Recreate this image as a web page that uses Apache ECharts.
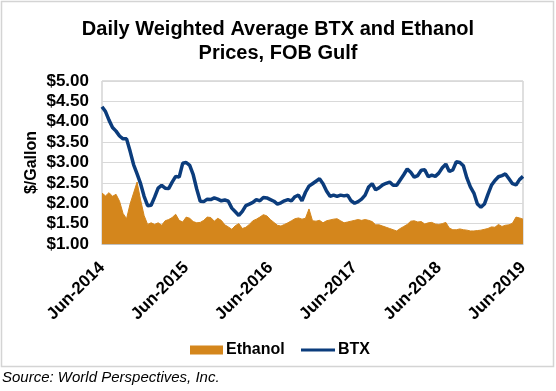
<!DOCTYPE html>
<html>
<head>
<meta charset="utf-8">
<script src="https://cdn.jsdelivr.net/npm/echarts@6/dist/echarts.min.js"></script>
<style>html,body{margin:0;padding:0;background:#fff;}#c{width:556px;height:391px;}</style>
</head>
<body>
<div id="c"></div>
<script>
// Semi-monthly sample dates, Jun-2014 .. Jun-2019 (1st and 16th of each month)
const dates = [];
for (let i = 0; i <= 120; i++) {
  const m = 5 + Math.floor(i / 2);
  const year = 2014 + Math.floor(m / 12);
  const month = (m % 12) + 1;
  const day = i % 2 ? 16 : 1;
  dates.push(year + '-' + String(month).padStart(2, '0') + '-' + String(day).padStart(2, '0'));
}
const tickLabels = ['Jun-2014', 'Jun-2015', 'Jun-2016', 'Jun-2017', 'Jun-2018', 'Jun-2019'];

// $/Gallon
const btx = [
  4.37, 4.25, 4.04, 3.86, 3.77, 3.65, 3.58, 3.58, 3.28, 2.95,
  2.72, 2.48, 2.17, 1.94, 1.95, 2.15, 2.37, 2.44, 2.37, 2.36,
  2.52, 2.66, 2.64, 2.98, 3.00, 2.93, 2.70, 2.35, 2.05, 2.04,
  2.10, 2.09, 2.13, 2.10, 2.06, 2.08, 2.05, 1.88, 1.79, 1.70,
  1.80, 1.94, 1.98, 2.02, 2.09, 2.06, 2.14, 2.13, 2.09, 2.05,
  1.98, 2.01, 2.06, 2.09, 2.06, 2.16, 2.20, 2.06, 2.27, 2.42,
  2.48, 2.54, 2.60, 2.48, 2.30, 2.17, 2.20, 2.17, 2.20, 2.18,
  2.20, 2.06, 2.00, 2.04, 2.10, 2.20, 2.40, 2.48, 2.33, 2.38,
  2.45, 2.49, 2.52, 2.44, 2.44, 2.57, 2.70, 2.84, 2.76, 2.64,
  2.68, 2.81, 2.82, 2.65, 2.69, 2.66, 2.74, 2.87, 2.96, 2.78,
  2.82, 3.02, 3.00, 2.92, 2.62, 2.40, 2.25, 1.98, 1.90, 1.98,
  2.22, 2.44, 2.56, 2.65, 2.68, 2.72, 2.60, 2.48, 2.45, 2.58,
  2.66
];
const ethanol = [
  2.25, 2.18, 2.26, 2.17, 2.22, 2.05, 1.75, 1.62, 1.98, 2.25,
  2.52, 2.08, 1.70, 1.48, 1.52, 1.48, 1.52, 1.46, 1.57, 1.60,
  1.65, 1.73, 1.58, 1.54, 1.66, 1.63, 1.55, 1.52, 1.53, 1.58,
  1.66, 1.65, 1.56, 1.63, 1.58, 1.47, 1.42, 1.36, 1.45, 1.50,
  1.38, 1.41, 1.48, 1.57, 1.61, 1.66, 1.72, 1.69, 1.60, 1.53,
  1.46, 1.44, 1.48, 1.52, 1.57, 1.62, 1.64, 1.61, 1.63, 1.86,
  1.57, 1.56, 1.58, 1.52, 1.57, 1.59, 1.61, 1.62, 1.57, 1.52,
  1.54, 1.56, 1.58, 1.60, 1.58, 1.60, 1.58, 1.55, 1.47, 1.47,
  1.44, 1.41, 1.38, 1.35, 1.32, 1.38, 1.43, 1.48, 1.56, 1.57,
  1.54, 1.55, 1.49, 1.52, 1.53, 1.49, 1.48, 1.50, 1.53, 1.39,
  1.35, 1.35, 1.37, 1.35, 1.34, 1.32, 1.32, 1.33, 1.34, 1.36,
  1.38, 1.42, 1.41, 1.48, 1.43, 1.46, 1.47, 1.51, 1.66, 1.64,
  1.61
];

const ORANGE = '#D4861C';
const NAVY = '#0B3C7C';
const FONT = 'Liberation Sans, Arial, sans-serif';

const chart = echarts.init(document.getElementById('c'), null, { renderer: 'canvas' });
chart.setOption({
  animation: false,
  backgroundColor: '#fff',
  title: [
    {
      text: 'Daily Weighted Average BTX and Ethanol\nPrices, FOB Gulf',
      left: 'center', top: 12,
      textStyle: { fontFamily: FONT, fontSize: 20, fontWeight: 'bold', color: '#000', lineHeight: 24 }
    },
    {
      text: 'Source: World Perspectives, Inc.',
      left: 2, top: 370, padding: 0,
      textStyle: { fontFamily: FONT, fontSize: 15, fontWeight: 'normal', fontStyle: 'italic', color: '#000' }
    }
  ],
  graphic: [{
    type: 'rect', silent: true,
    shape: { x: 1.5, y: 1.5, width: 552, height: 365 },
    style: { fill: 'none', stroke: '#d4d4d4', lineWidth: 1.5 }
  }],
  legend: [
    {
      data: [{ name: 'Ethanol', icon: 'rect' }],
      left: 190, top: 342, padding: 0,
      itemWidth: 33, itemHeight: 9,
      textStyle: { fontFamily: FONT, fontSize: 16, fontWeight: 'bold', color: '#000', padding: [0, 0, 0, -2] }
    },
    {
      data: [{ name: 'BTX', icon: 'rect' }],
      left: 301, top: 342, padding: 0,
      itemWidth: 34, itemHeight: 3,
      textStyle: { fontFamily: FONT, fontSize: 16, fontWeight: 'bold', color: '#000', padding: [0, 0, 0, -2] }
    }
  ],
  grid: {
    left: 102, right: 33, top: 81, bottom: 147,
    show: true, borderColor: '#bfbfbf', borderWidth: 1
  },
  xAxis: {
    type: 'category',
    data: dates,
    boundaryGap: false,
    axisLine: { show: true, lineStyle: { color: '#bfbfbf' } },
    axisTick: { show: false },
    splitLine: { show: false },
    axisLabel: {
      interval: 23,
      rotate: 45,
      margin: 21,
      fontFamily: FONT, fontSize: 17, fontWeight: 'bold', color: '#000',
      formatter: function (v, idx) { return tickLabels[Math.round(idx / 24)]; }
    }
  },
  yAxis: {
    type: 'value',
    min: 1, max: 5, interval: 0.5,
    name: '$/Gallon',
    nameLocation: 'middle',
    nameGap: 62,
    nameMoveOverlap: false,
    nameTextStyle: { fontFamily: FONT, fontSize: 16, fontWeight: 'bold', color: '#000' },
    axisLine: { show: false },
    axisTick: { show: false },
    splitLine: { lineStyle: { color: '#d9d9d9', width: 1 } },
    axisLabel: {
      margin: 13,
      fontFamily: FONT, fontSize: 17, fontWeight: 'bold', color: '#000',
      formatter: function (v) { return '$' + v.toFixed(2); }
    }
  },
  series: [
    {
      name: 'Ethanol', type: 'line', data: ethanol,
      symbol: 'none', showSymbol: false,
      itemStyle: { color: ORANGE },
      lineStyle: { color: ORANGE, width: 1 },
      areaStyle: { color: ORANGE, opacity: 1, origin: 'start' },
      z: 2
    },
    {
      name: 'BTX', type: 'line', data: btx,
      symbol: 'none', showSymbol: false,
      itemStyle: { color: NAVY },
      lineStyle: { color: NAVY, width: 3.5 },
      z: 3
    }
  ]
});
</script>
</body>
</html>
